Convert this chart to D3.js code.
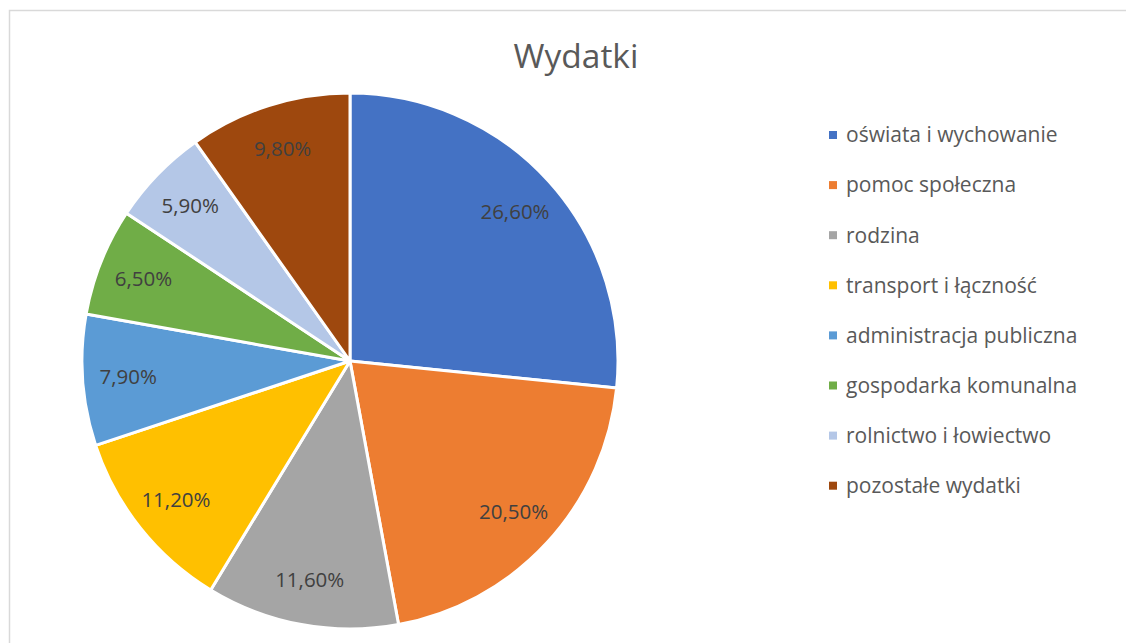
<!DOCTYPE html>
<html>
<head>
<meta charset="UTF-8">
<title>Wydatki</title>
<style>
  body { margin: 0; background: #fff; }
  svg { display: block; font-family: "Open Sans", Lato, sans-serif; }
</style>
<script src="https://d3js.org/d3.v7.min.js"></script>
</head>
<body>
<svg width="1126" height="643"></svg>
<script>
var categories = ["oświata i wychowanie", "pomoc społeczna", "rodzina", "transport i łączność",
                  "administracja publiczna", "gospodarka komunalna", "rolnictwo i łowiectwo", "pozostałe wydatki"];
var values = [26.6, 20.5, 11.6, 11.2, 7.9, 6.5, 5.9, 9.8];
var colors = ["#4472C4", "#ED7D31", "#A5A5A5", "#FFC000", "#5B9BD5", "#70AD47", "#B4C7E7", "#9E480E"];

var svg = d3.select("svg");

// chart frame
svg.append("rect")
    .attr("x", 9.5).attr("y", 10.5)
    .attr("width", 1200).attr("height", 700)
    .attr("fill", "#fff")
    .attr("stroke", "#d9d9d9")
    .attr("stroke-width", 1.5);

svg.append("text")
    .attr("x", 576).attr("y", 68)
    .attr("text-anchor", "middle")
    .attr("fill", "#595959")
    .attr("font-size", 33.5)
    .text("Wydatki");

var cx = 350, cy = 361, R = 268;

var pie = d3.pie().sort(null).value(function(d) { return d; });
var arc = d3.arc().innerRadius(0).outerRadius(R);
var labelArc = d3.arc().innerRadius(R * 0.83).outerRadius(R * 0.83);
var fmt = function(v) { return v.toFixed(2).replace(".", ",") + "%"; };

var g = svg.append("g").attr("transform", "translate(" + cx + "," + cy + ")");
var arcs = pie(values);

g.selectAll("path")
    .data(arcs)
    .enter().append("path")
    .attr("d", arc)
    .attr("fill", function(d, i) { return colors[i]; })
    .attr("stroke", "#fff")
    .attr("stroke-width", 3)
    .attr("stroke-linejoin", "round");

g.selectAll("text")
    .data(arcs)
    .enter().append("text")
    .attr("transform", function(d) { return "translate(" + labelArc.centroid(d) + ")"; })
    .attr("text-anchor", "middle")
    .attr("dy", "0.35em")
    .attr("fill", "#404040")
    .attr("font-size", 20.5)
    .text(function(d) { return fmt(d.data); });

// legend
var legend = svg.append("g").attr("transform", "translate(829,135)");
var row = legend.selectAll("g")
    .data(categories)
    .enter().append("g")
    .attr("transform", function(d, i) { return "translate(0," + (i * 50.1) + ")"; });

row.append("rect")
    .attr("x", 0).attr("y", -4)
    .attr("width", 8).attr("height", 8)
    .attr("fill", function(d, i) { return colors[i]; });

row.append("text")
    .attr("x", 17)
    .attr("dy", "0.35em")
    .attr("fill", "#595959")
    .attr("font-size", 21)
    .text(function(d) { return d; });
</script>
</body>
</html>
